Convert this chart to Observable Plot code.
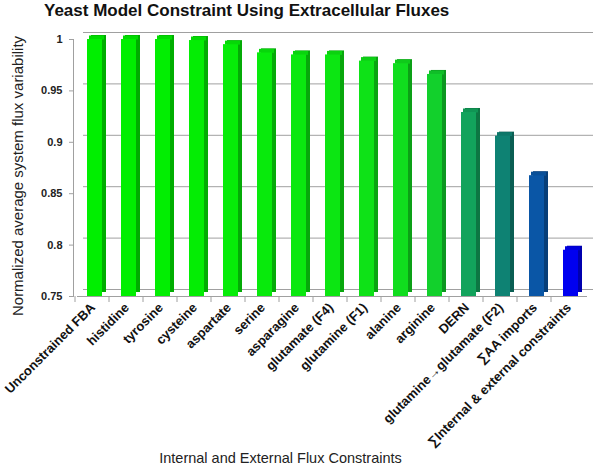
<!DOCTYPE html>
<html>
<head>
<meta charset="utf-8">
<script src="https://cdn.jsdelivr.net/npm/d3@7"></script>
<script src="https://cdn.jsdelivr.net/npm/@observablehq/plot@0.6"></script>
<style>
  html, body { margin: 0; padding: 0; background: #fff; }
  #wrap { position: relative; width: 600px; height: 467px; overflow: hidden; }
  #title { position: absolute; left: 44px; top: 1px; font: bold 17px "Liberation Sans", Arial, sans-serif; color: #111; white-space: nowrap; }
  #chart svg { display: block; }
</style>
</head>
<body>
<div id="wrap">
  <div id="chart"></div>
  <div id="title">Yeast Model Constraint Using Extracellular Fluxes</div>
</div>
<script>
// ---- data ----
const categories = [
  "Unconstrained FBA", "histidine", "tyrosine", "cysteine", "aspartate",
  "serine", "asparagine", "glutamate (F4)", "glutamine (F1)", "alanine",
  "arginine", "DERN", "glutamine\u2192glutamate (F2)", "\u2211AA imports",
  "\u2211Internal & external constraints"
];
const values = [1.0, 1.0, 1.0, 0.999, 0.995, 0.987, 0.985, 0.985, 0.979, 0.9765,
                0.966, 0.929, 0.906, 0.8675, 0.795];
const yTicks = [0.75, 0.8, 0.85, 0.9, 0.95, 1];
const yLabel = "Normalized average system flux variability";
const xLabel = "Internal and External Flux Constraints";

// ---- styling (separate from data) ----
const barColors = ["#00ef00", "#00ef00", "#02ee02", "#04ed04", "#06ec08", "#08ea0c",
  "#0ae80f", "#0ce612", "#0ee217", "#10dd1e", "#12d02c", "#12a35c", "#0e8273",
  "#0a56a6", "#0000f0"];

const rows = categories.map((name, i) => ({name, value: values[i], i}));
const front = d => barColors[d.i];
const side = d => d3.color(barColors[d.i]).darker(0.9).formatHex();
const cap = d => d3.color(barColors[d.i]).darker(0.25).formatHex();

const grid = "#a0a0a0";

const chart = Plot.plot({
  width: 600,
  height: 467,
  marginTop: 39,
  marginBottom: 171,
  marginLeft: 77,
  marginRight: 13,
  style: {fontFamily: "'Liberation Sans', Arial, sans-serif", background: "#fff", color: "#222"},
  x: {domain: categories, paddingInner: 0.56, paddingOuter: 0.28, label: null},
  y: {domain: [0.75, 1], label: null},
  color: {type: "identity"},
  marks: [
    // back wall gridlines (3D offset)
    Plot.ruleY(yTicks, {dx: 6, dy: -7, stroke: grid, strokeWidth: 1}),
    // front floor edge
    Plot.ruleY([0.75], {stroke: grid, strokeWidth: 1}),
    // left wall edge
    Plot.frame({anchor: "left", stroke: grid, dx: -4}),
    // y ticks and labels
    Plot.axisY({ticks: yTicks, tickSize: 4, text: null, dx: -4, stroke: grid}),
    Plot.axisY({ticks: yTicks, tickSize: 0, tickPadding: 15, tickFormat: d => String(d),
      fontWeight: "bold", fontSize: 11, fill: "#222"}),
    // x ticks at band boundaries
    Plot.axisX({tickSize: 6, text: null, dx: -20, stroke: grid}),
    // x labels
    Plot.axisX({tickSize: 0, tickRotate: -45, tickPadding: 9, dx: -2, fontWeight: "bold", fontSize: 13, fill: "#111"}),
    // 3D side faces
    Plot.barY(rows, {x: "name", y1: 0.75, y2: "value", fill: side, dx: 4, dy: -4}),
    // caps
    Plot.tickY(rows, {x: "name", y: "value", stroke: cap, strokeWidth: 4, dx: 2, dy: -2}),
    // front faces
    Plot.barY(rows, {x: "name", y1: 0.75, y2: "value", fill: front}),
    // axis titles
    Plot.text([yLabel], {frameAnchor: "left", textAnchor: "middle", rotate: -90, dx: -59, dy: 8, fontSize: 15, fill: "#222"}),
    Plot.text([xLabel], {frameAnchor: "bottom", dy: 166, dx: -52, fontSize: 14.5, fill: "#222"})
  ]
});
document.getElementById("chart").appendChild(chart);
</script>
</body>
</html>
